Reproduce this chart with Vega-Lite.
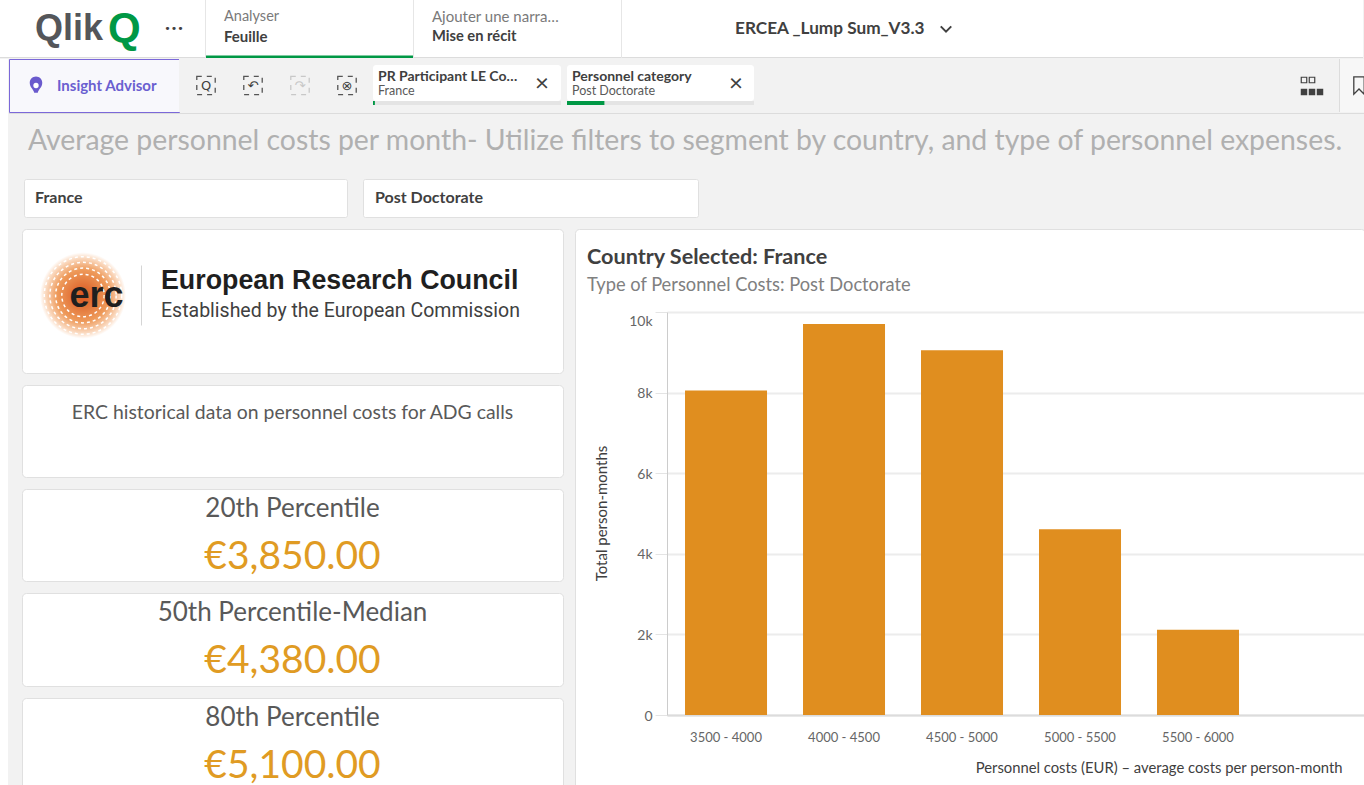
{
"$schema":"https://vega.github.io/schema/vega-lite/v6.json",
"background":"#f2f2f2","padding":0,
"config":{"font":"Lato","view":{"stroke":null},"concat":{"spacing":0},"text":{"font":"Lato"}},
"spacing":0,
"vconcat":[
{"bounds":"flush","spacing":0,"hconcat":[
 {"width":205,"height":58,"view":{"fill":"white","stroke":null},
  "encoding":{"x":{"field":"slot","type":"nominal","scale":{"type":"point","padding":0,"domain":["Qlik","Q","dots"],"range":[35,181]},"axis":null}},
  "layer":[
   {"data":{"values":[{"slot":"Qlik","t":"Qlik"}]},"mark":{"type":"text","align":"left","fontSize":36,"fontWeight":"bold","color":"#54565a","font":"Liberation Sans"},"encoding":{"text":{"field":"t"}}},
   {"data":{"values":[{"slot":"Q","t":"Q"}]},"mark":{"type":"text","align":"left","fontSize":42,"fontWeight":"bold","color":"#009845","font":"Liberation Sans"},"encoding":{"text":{"field":"t"}}},
   {"data":{"values":[{"slot":"dots","t":"•••"}]},"mark":{"type":"text","align":"center","fontSize":11,"dx":-7,"color":"#404040","font":"DejaVu Sans"},"encoding":{"text":{"field":"t"}}},
   {"data":{"values":[{"line":"edge"}]},"mark":{"type":"rule","color":"#dcdcdc","clip":true},"encoding":{"x":null,"y":{"field":"line","type":"nominal","scale":{"type":"point","padding":0,"domain":["edge"],"range":[57.5,57.5]},"axis":null}}}
  ]},
 {"width":1,"height":58,"view":{"fill":"#e6e6e6","stroke":null},"data":{"values":[]},"mark":"point","encoding":{}},
 {"width":207,"height":58,"view":{"fill":"white","stroke":null},
  "encoding":{"x":{"field":"col","type":"nominal","scale":{"type":"point","padding":0,"domain":["text"],"range":[18,18]},"axis":null},
   "y":{"field":"line","type":"nominal","scale":{"type":"point","padding":0,"domain":["top","bottom","edge"],"range":[17,57]},"axis":null}},
  "layer":[
   {"data":{"values":[{"col":"text","line":"top","t":"Analyser"}]},"mark":{"type":"text","align":"left","fontSize":14.5,"color":"#7a7a7a"},"encoding":{"text":{"field":"t"}}},
   {"data":{"values":[{"col":"text","line":"bottom","t":"Feuille"}]},"mark":{"type":"text","align":"left","fontSize":15,"fontWeight":"bold","color":"#404040"},"encoding":{"text":{"field":"t"}}},
   {"data":{"values":[{"line":"edge"}]},"mark":{"type":"rule","color":"#009845","strokeWidth":3,"clip":true},"encoding":{"x":null}}
  ]},
 {"width":1,"height":58,"view":{"fill":"#e6e6e6","stroke":null},"data":{"values":[]},"mark":"point","encoding":{}},
 {"width":207,"height":58,"view":{"fill":"white","stroke":null},
  "encoding":{"x":{"field":"col","type":"nominal","scale":{"type":"point","padding":0,"domain":["text"],"range":[18,18]},"axis":null},
   "y":{"field":"line","type":"nominal","scale":{"type":"point","padding":0,"domain":["top","bottom","edge"],"range":[17,57.5]},"axis":null}},
  "layer":[
   {"data":{"values":[{"col":"text","line":"top","t":"Ajouter une narra…"}]},"mark":{"type":"text","align":"left","fontSize":15,"color":"#7a7a7a"},"encoding":{"text":{"field":"t"}}},
   {"data":{"values":[{"col":"text","line":"bottom","t":"Mise en récit"}]},"mark":{"type":"text","align":"left","fontSize":14.7,"fontWeight":"bold","color":"#404040"},"encoding":{"text":{"field":"t"}}},
   {"data":{"values":[{"line":"edge"}]},"mark":{"type":"rule","color":"#dcdcdc","clip":true},"encoding":{"x":null}}
  ]},
 {"width":1,"height":58,"view":{"fill":"#e6e6e6","stroke":null},"data":{"values":[]},"mark":"point","encoding":{}},
 {"width":741,"height":58,"view":{"fill":"white","stroke":null},
  "encoding":{"x":{"field":"slot","type":"nominal","scale":{"type":"point","padding":0,"domain":["title","chevron"],"range":[113,324]},"axis":null}},
  "layer":[
   {"data":{"values":[{"slot":"title","t":"ERCEA _Lump Sum_V3.3"}]},"mark":{"type":"text","align":"left","fontSize":17.2,"fontWeight":"bold","color":"#404040"},"encoding":{"text":{"field":"t"}}},
   {"data":{"values":[{"slot":"chevron"}]},"mark":{"type":"point","size":110,"color":"#404040","opacity":1,"strokeWidth":2,"shape":"M-1,-0.5L0,0.5L1,-0.5"}},
   {"data":{"values":[{"line":"edge"}]},"mark":{"type":"rule","color":"#dcdcdc","clip":true},"encoding":{"x":null,"y":{"field":"line","type":"nominal","scale":{"type":"point","padding":0,"domain":["edge"],"range":[57.5,57.5]},"axis":null}}}
  ]}
]},
{"spacing":0,"hconcat":[
 {"width":8,"height":732,"view":{"fill":"white","stroke":null},"data":{"values":[]},"mark":"point","encoding":{}},
 {"spacing":0,"vconcat":[
  {"bounds":"flush","spacing":0,"hconcat":[
   {"width":170,"height":53,"view":{"fill":"#f8f8fc","stroke":"#7b68d9"},
    "encoding":{"x":{"field":"slot","type":"nominal","scale":{"type":"point","padding":0,"domain":["icon","label"],"range":[27,48]},"axis":null}},
    "layer":[
     {"data":{"values":[{"slot":"icon"}]},"mark":{"type":"point","filled":true,"size":320,"color":"#6a5acd","opacity":1,"shape":"M-0.7,-0.3A0.7,0.7 0 1 1 0.7,-0.3C0.7,0.2 0.3,0.4 0.2,0.8L-0.2,0.8C-0.3,0.4 -0.7,0.2 -0.7,-0.3Z"}},
     {"data":{"values":[{"slot":"icon"}]},"mark":{"type":"point","filled":true,"size":28,"color":"white","opacity":1,"shape":"circle"}},
     {"data":{"values":[{"slot":"label","t":"Insight Advisor"}]},"mark":{"type":"text","align":"left","fontSize":15,"fontWeight":"bold","color":"#6a5fd0"},"encoding":{"text":{"field":"t"}}}
    ]},
   {"width":194,"height":53,"view":{"fill":"#f2f2f2","stroke":null},
    "encoding":{"x":{"field":"tool","type":"nominal","scale":{"type":"point","padding":0,"domain":["search","back","forward","clear"],"range":[27,168]},"axis":null}},
    "layer":[
     {"data":{"values":[{"tool":"search"},{"tool":"back"},{"tool":"clear"}]},"mark":{"type":"point","shape":"square","size":340,"color":"#555555","opacity":1,"strokeDash":[5,5],"strokeWidth":1.3}},
     {"data":{"values":[{"tool":"forward"}]},"mark":{"type":"point","shape":"square","size":340,"color":"#c8c8c8","opacity":1,"strokeDash":[5,5],"strokeWidth":1.3}},
     {"data":{"values":[{"tool":"search","t":"Q"},{"tool":"back","t":"↶"},{"tool":"clear","t":"⊗"}]},"mark":{"type":"text","fontSize":13,"color":"#404040","font":"DejaVu Sans"},"encoding":{"text":{"field":"t"}}},
     {"data":{"values":[{"tool":"forward","t":"↷"}]},"mark":{"type":"text","fontSize":13,"color":"#c8c8c8","font":"DejaVu Sans"},"encoding":{"text":{"field":"t"}}}
    ]},
   {"width":188,"height":53,"resolve":{"scale":{"x":"independent","y":"independent"}},
    "layer":[
     {"data":{"values":[{"part":"body","all":1}]},"mark":{"type":"bar","color":"white","cornerRadius":3},"encoding":{"x":{"field":"all","type":"quantitative","scale":{"domain":[0,1]},"axis":null},"y":{"field":"part","type":"nominal","scale":{"type":"band","domain":["body"],"range":[6,42],"padding":0},"axis":null}}},
     {"data":{"values":[{"part":"strip","all":1}]},"mark":{"type":"bar","color":"#e4e4e4"},"encoding":{"x":{"field":"all","type":"quantitative","scale":{"domain":[0,1]},"axis":null},"y":{"field":"part","type":"nominal","scale":{"type":"band","domain":["strip"],"range":[42,46],"padding":0},"axis":null}}},
     {"data":{"values":[{"part":"strip","selected":0.01}]},"mark":{"type":"bar","color":"#009845"},"encoding":{"x":{"field":"selected","type":"quantitative","scale":{"domain":[0,1]},"axis":null},"y":{"field":"part","type":"nominal","scale":{"type":"band","domain":["strip"],"range":[42,46],"padding":0},"axis":null}}},
     {"data":{"values":[{"col":"text","row":"name","t":"PR Participant LE Co…"},{"col":"text","row":"value","t":"France"},{"col":"close","row":"close","t":"×"}]},
      "layer":[
       {"transform":[{"filter":"datum.row=='name'"}],"mark":{"type":"text","align":"left","fontSize":14,"fontWeight":"bold","color":"#404040"}},
       {"transform":[{"filter":"datum.row=='value'"}],"mark":{"type":"text","align":"left","fontSize":12.5,"color":"#595959"}},
       {"transform":[{"filter":"datum.row=='close'"}],"mark":{"type":"text","align":"center","fontSize":24,"color":"#404040"}}
      ],
      "encoding":{"x":{"field":"col","type":"nominal","scale":{"type":"point","padding":0,"domain":["text","close"],"range":[5,169]},"axis":null},"y":{"field":"row","type":"nominal","scale":{"type":"point","padding":0,"domain":["name","close","value"],"range":[18,32]},"axis":null},"text":{"field":"t"}}}
    ]},
   {"width":6,"height":53,"data":{"values":[]},"mark":"point","encoding":{}},
   {"width":187,"height":53,"resolve":{"scale":{"x":"independent","y":"independent"}},
    "layer":[
     {"data":{"values":[{"part":"body","all":1}]},"mark":{"type":"bar","color":"white","cornerRadius":3},"encoding":{"x":{"field":"all","type":"quantitative","scale":{"domain":[0,1]},"axis":null},"y":{"field":"part","type":"nominal","scale":{"type":"band","domain":["body"],"range":[6,42],"padding":0},"axis":null}}},
     {"data":{"values":[{"part":"strip","all":1}]},"mark":{"type":"bar","color":"#e4e4e4"},"encoding":{"x":{"field":"all","type":"quantitative","scale":{"domain":[0,1]},"axis":null},"y":{"field":"part","type":"nominal","scale":{"type":"band","domain":["strip"],"range":[42,46],"padding":0},"axis":null}}},
     {"data":{"values":[{"part":"strip","selected":0.2}]},"mark":{"type":"bar","color":"#009845"},"encoding":{"x":{"field":"selected","type":"quantitative","scale":{"domain":[0,1]},"axis":null},"y":{"field":"part","type":"nominal","scale":{"type":"band","domain":["strip"],"range":[42,46],"padding":0},"axis":null}}},
     {"data":{"values":[{"col":"text","row":"name","t":"Personnel category"},{"col":"text","row":"value","t":"Post Doctorate"},{"col":"close","row":"close","t":"×"}]},
      "layer":[
       {"transform":[{"filter":"datum.row=='name'"}],"mark":{"type":"text","align":"left","fontSize":14,"fontWeight":"bold","color":"#404040"}},
       {"transform":[{"filter":"datum.row=='value'"}],"mark":{"type":"text","align":"left","fontSize":12.5,"color":"#595959"}},
       {"transform":[{"filter":"datum.row=='close'"}],"mark":{"type":"text","align":"center","fontSize":24,"color":"#404040"}}
      ],
      "encoding":{"x":{"field":"col","type":"nominal","scale":{"type":"point","padding":0,"domain":["text","close"],"range":[5,169]},"axis":null},"y":{"field":"row","type":"nominal","scale":{"type":"point","padding":0,"domain":["name","close","value"],"range":[18,32]},"axis":null},"text":{"field":"t"}}}
    ]},
   {"width":585,"height":53,
    "encoding":{"x":{"field":"c","type":"nominal","scale":{"type":"point","padding":0,"domain":["a","b","c"],"range":[550,566]},"axis":null},"y":{"field":"r","type":"nominal","scale":{"type":"point","padding":0,"domain":["top","bottom"],"range":[21,33]},"axis":null}},
    "layer":[
     {"data":{"values":[{"c":"a","r":"top"},{"c":"b","r":"top"}]},"mark":{"type":"point","shape":"square","size":30,"color":"#404040","opacity":1,"strokeWidth":1.2}},
     {"data":{"values":[{"c":"a","r":"bottom"},{"c":"b","r":"bottom"},{"c":"c","r":"bottom"}]},"mark":{"type":"square","size":42,"color":"#404040","opacity":1}}
    ]},
   {"width":1,"height":53,"view":{"fill":"#dcdcdc","stroke":null},"data":{"values":[]},"mark":"point","encoding":{}},
   {"width":24,"height":53,"view":{"fill":"#f7f7f7","stroke":null},
    "data":{"values":[{"c":"bookmark"}]},
    "mark":{"type":"point","size":300,"color":"#404040","opacity":1,"strokeWidth":1.3,"shape":"M-0.6,-1L0.6,-1L0.6,1L0,0.4L-0.6,1Z"},
    "encoding":{"x":{"field":"c","type":"nominal","scale":{"type":"point","padding":0,"domain":["bookmark"],"range":[19,19]},"axis":null}}}
  ]},
  {"width":1355,"height":1,"view":{"fill":"#dcdcdc","stroke":null},"data":{"values":[]},"mark":"point","encoding":{}},
  {"width":1355,"height":64,
   "data":{"values":[{"c":"title","r":"title","t":"Average personnel costs per month- Utilize filters to segment by country, and type of personnel expenses."}]},
   "mark":{"type":"text","align":"left","fontSize":28.4,"color":"#b0b0b0"},
   "encoding":{"x":{"field":"c","type":"nominal","scale":{"type":"point","padding":0,"domain":["title"],"range":[19,19]},"axis":null},"y":{"field":"r","type":"nominal","scale":{"type":"point","padding":0,"domain":["title"],"range":[26.5,26.5]},"axis":null},"text":{"field":"t"}}},
  {"bounds":"flush","spacing":0,"hconcat":[
   {"width":15,"height":38,"data":{"values":[]},"mark":"point","encoding":{}},
   {"width":323,"height":38,"view":{"fill":"white","stroke":"#e0e0e0","cornerRadius":2},
    "data":{"values":[{"c":"text","t":"France"}]},
    "mark":{"type":"text","align":"left","fontSize":16,"fontWeight":"bold","color":"#404040"},
    "encoding":{"x":{"field":"c","type":"nominal","scale":{"type":"point","padding":0,"domain":["text"],"range":[11,11]},"axis":null},"text":{"field":"t"}}},
   {"width":16,"height":38,"data":{"values":[]},"mark":"point","encoding":{}},
   {"width":335,"height":38,"view":{"fill":"white","stroke":"#e0e0e0","cornerRadius":2},
    "data":{"values":[{"c":"text","t":"Post Doctorate"}]},
    "mark":{"type":"text","align":"left","fontSize":16,"fontWeight":"bold","color":"#404040"},
    "encoding":{"x":{"field":"c","type":"nominal","scale":{"type":"point","padding":0,"domain":["text"],"range":[12,12]},"axis":null},"text":{"field":"t"}}}
  ]},
  {"width":1355,"height":10,"data":{"values":[]},"mark":"point","encoding":{}},
  {"spacing":10,"hconcat":[
   {"width":2,"height":560,"data":{"values":[]},"mark":"point","encoding":{}},
   {"bounds":"flush","spacing":12,"vconcat":[
    {"width":541,"height":144,"view":{"fill":"white","stroke":"#e0e0e0","cornerRadius":4},
     "encoding":{"x":{"field":"c","type":"nominal","scale":{"type":"point","padding":0,"domain":["seal","erc","mid","rule","name"],"range":[61,139]},"axis":null},
      "y":{"field":"r","type":"nominal","scale":{"type":"point","padding":0,"domain":["rtop","name","mid","sub","rbot"],"range":[36.5,96.5]},"axis":null}},
     "layer":[
      {"data":{"values":[{"c":"seal","r":"mid"}]},"mark":{"type":"point","filled":true,"opacity":1,"size":7400,"shape":"circle","fill":{"gradient":"radial","x1":0.5,"y1":0.5,"r1":0,"x2":0.5,"y2":0.5,"r2":0.5,"stops":[{"offset":0,"color":"#d8561f"},{"offset":0.6,"color":"#ee9a5a"},{"offset":0.88,"color":"#fbdcc4"},{"offset":1,"color":"#ffffff"}]}}},
      {"data":{"values":[{"c":"seal","r":"mid"}]},"mark":{"type":"point","opacity":1,"size":6000,"shape":"circle","color":"white","strokeWidth":1.5,"strokeDash":[3,3]}},
      {"data":{"values":[{"c":"seal","r":"mid"}]},"mark":{"type":"point","opacity":1,"size":4400,"shape":"circle","color":"white","strokeWidth":1.5,"strokeDash":[3,3]}},
      {"data":{"values":[{"c":"seal","r":"mid"}]},"mark":{"type":"point","opacity":1,"size":3000,"shape":"circle","color":"white","strokeWidth":1.5,"strokeDash":[3,3]}},
      {"data":{"values":[{"c":"seal","r":"mid"}]},"mark":{"type":"point","opacity":1,"size":1800,"shape":"circle","color":"white","strokeWidth":1.5,"strokeDash":[3,3]}},
      {"data":{"values":[{"c":"erc","r":"mid","t":"erc"}]},"mark":{"type":"text","align":"center","dx":-6,"fontSize":36,"fontWeight":"bold","color":"#1f1f1f","font":"Liberation Sans"},"encoding":{"text":{"field":"t"}}},
      {"data":{"values":[{"c":"rule","a":"rtop","b":"rbot"}]},"mark":{"type":"rule","color":"#d5d5d5"},"encoding":{"y":{"field":"a","type":"nominal"},"y2":{"field":"b"}}},
      {"data":{"values":[{"c":"name","r":"name","t":"European Research Council"}]},"mark":{"type":"text","align":"left","fontSize":26.8,"fontWeight":"bold","color":"#1f1f1f","font":"Liberation Sans"},"encoding":{"text":{"field":"t"}}},
      {"data":{"values":[{"c":"name","r":"sub","t":"Established by the European Commission"}]},"mark":{"type":"text","align":"left","fontSize":19.5,"color":"#404040","font":"Roboto"},"encoding":{"text":{"field":"t"}}}
     ]},
    {"width":541,"height":92,"view":{"fill":"white","stroke":"#e0e0e0","cornerRadius":4},
     "data":{"values":[{"r":"text","t":"ERC historical data on personnel costs for ADG calls"}]},
     "mark":{"type":"text","fontSize":19.4,"color":"#595959"},
     "encoding":{"y":{"field":"r","type":"nominal","scale":{"type":"point","padding":0,"domain":["text"],"range":[27.5,27.5]},"axis":null},"text":{"field":"t"}}},
    {"width":541,"height":92,"view":{"fill":"white","stroke":"#e0e0e0","cornerRadius":4},
     "data":{"values":[{"label":"20th Percentile","amount":"€3,850.00"}]},
     "layer":[
      {"mark":{"type":"text","fontSize":26,"color":"#595959"},"encoding":{"y":{"datum":"label","type":"nominal","scale":{"type":"point","padding":0,"domain":["label","amount"],"range":[20,67.5]},"axis":null},"text":{"field":"label"}}},
      {"mark":{"type":"text","fontSize":39,"color":"#e09b23"},"encoding":{"y":{"datum":"amount","type":"nominal"},"text":{"field":"amount"}}}
     ]},
    {"width":541,"height":93,"view":{"fill":"white","stroke":"#e0e0e0","cornerRadius":4},
     "data":{"values":[{"label":"50th Percentile-Median","amount":"€4,380.00"}]},
     "layer":[
      {"mark":{"type":"text","fontSize":26,"color":"#595959"},"encoding":{"y":{"datum":"label","type":"nominal","scale":{"type":"point","padding":0,"domain":["label","amount"],"range":[20,67.5]},"axis":null},"text":{"field":"label"}}},
      {"mark":{"type":"text","fontSize":39,"color":"#e09b23"},"encoding":{"y":{"datum":"amount","type":"nominal"},"text":{"field":"amount"}}}
     ]},
    {"width":541,"height":92,"view":{"fill":"white","stroke":"#e0e0e0","cornerRadius":4},
     "data":{"values":[{"label":"80th Percentile","amount":"€5,100.00"}]},
     "layer":[
      {"mark":{"type":"text","fontSize":26,"color":"#595959"},"encoding":{"y":{"datum":"label","type":"nominal","scale":{"type":"point","padding":0,"domain":["label","amount"],"range":[20,67.5]},"axis":null},"text":{"field":"label"}}},
      {"mark":{"type":"text","fontSize":39,"color":"#e09b23"},"encoding":{"y":{"datum":"amount","type":"nominal"},"text":{"field":"amount"}}}
     ]}
   ]},
   {"width":790,"height":560,"view":{"fill":"white","stroke":"#e0e0e0","cornerRadius":4},
    "resolve":{"scale":{"x":"independent","y":"independent"}},
    "layer":[
    {"data":{"values":[{"range":"3500 - 4000","months":8055},{"range":"4000 - 4500","months":9702},{"range":"4500 - 5000","months":9052},{"range":"5000 - 5500","months":4610},{"range":"5500 - 6000","months":2117}]},
    "mark":{"type":"bar","color":"#e08e1f"},
    "encoding":{
     "x":{"field":"range","type":"nominal","sort":null,
      "scale":{"type":"band","range":[92,789],"paddingInner":0.305,"paddingOuter":0.606,"align":0.126},
      "axis":{"orient":"bottom","offset":-74,"labelAngle":0,"ticks":false,"grid":false,"domainColor":"#dcdcdc","domainWidth":2,"labelColor":"#666666","labelFontSize":13,"labelPadding":16,"title":"Personnel costs (EUR) – average costs per person-month","titleAlign":"right","titleAnchor":"end","titleX":767,"titleY":45,"titleColor":"#404040","titleFontSize":14.8,"titleFontWeight":"normal"}},
     "y":{"field":"months","type":"quantitative",
      "scale":{"domain":[0,10000],"nice":false,"range":[486,83]},
      "axis":{"orient":"left","offset":-92,"values":[0,2000,4000,6000,8000,10000],"labelExpr":"datum.value==0?'0':(datum.value/1000)+'k'","labelOffset":{"condition":{"test":"datum.value==10000","value":9},"value":1},"grid":true,"gridColor":"#ececec","gridWidth":2,"domainColor":"#cccccc","tickColor":"#e4e4e4","tickSize":12,"labelPadding":3,"labelColor":"#666666","labelFontSize":14,"title":"Total person-months","titleColor":"#404040","titleFontSize":15,"titleFontWeight":"normal","titleX":-58,"titleY":284}}
    }},
    {"data":{"values":[{"c":"text","r":"head","t":"Country Selected: France"}]},"mark":{"type":"text","align":"left","fontSize":21.6,"fontWeight":"bold","color":"#404040"},
     "encoding":{"x":{"field":"c","type":"nominal","scale":{"type":"point","padding":0,"domain":["text"],"range":[12,12]},"axis":null},"y":{"field":"r","type":"nominal","scale":{"type":"point","padding":0,"domain":["head","sub"],"range":[28.5,56.5]},"axis":null},"text":{"field":"t"}}},
    {"data":{"values":[{"c":"text","r":"sub","t":"Type of Personnel Costs: Post Doctorate"}]},"mark":{"type":"text","align":"left","fontSize":18.3,"color":"#808080"},
     "encoding":{"x":{"field":"c","type":"nominal","scale":{"type":"point","padding":0,"domain":["text"],"range":[12,12]},"axis":null},"y":{"field":"r","type":"nominal","scale":{"type":"point","padding":0,"domain":["head","sub"],"range":[28.5,56.5]},"axis":null},"text":{"field":"t"}}}
    ]}
  ]}
 ]}
]}
]}
